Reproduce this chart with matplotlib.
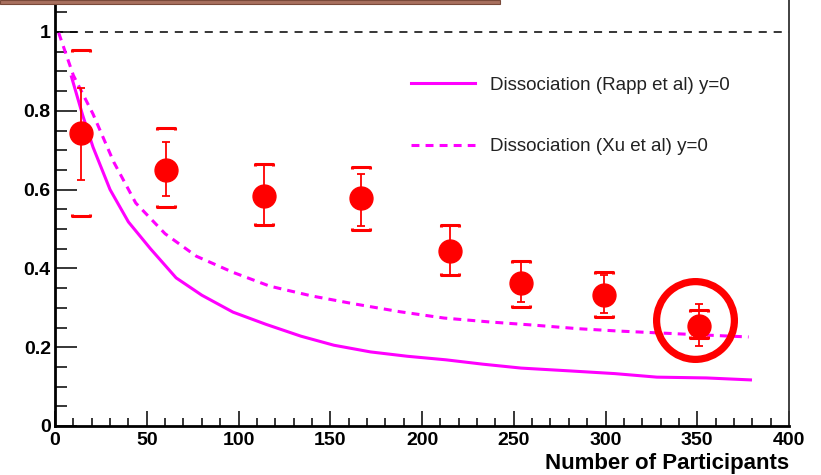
import numpy as np
import matplotlib.pyplot as plt
from matplotlib.path import Path
from matplotlib.patches import Rectangle
from matplotlib.ticker import MultipleLocator
# ===========================================================================
# data
npart = [14, 60.5, 114, 167, 215, 254, 299, 351]
raa = [0.743, 0.649, 0.585, 0.578, 0.445, 0.364, 0.333, 0.254]
stat_hi = [0.858, 0.72, 0.664, 0.640, 0.509, 0.420, 0.384, 0.310]
stat_lo = [0.624, 0.583, 0.509, 0.508, 0.384, 0.315, 0.288, 0.204]
sys_hi = [0.954, 0.756, 0.664, 0.657, 0.509, 0.420, 0.392, 0.295]
sys_lo = [0.532, 0.555, 0.509, 0.497, 0.384, 0.303, 0.277, 0.224]

# Rapp et al curve
rapp_n = [9, 15, 20.7, 30, 40, 52, 66, 80, 97, 115, 134, 152, 172, 192, 213, 233, 254, 280, 305, 328, 355, 379]
rapp_y = [0.886, 0.79, 0.708, 0.60, 0.518, 0.45, 0.376, 0.332, 0.289, 0.258, 0.228, 0.205, 0.188,
          0.177, 0.168, 0.157, 0.147, 0.140, 0.133, 0.124, 0.122, 0.117]

# Xu et al curve
xu_n = [2, 10, 20.7, 32, 44, 60, 77, 97, 117, 140, 163, 188, 212, 237, 261, 285, 307, 344, 378]
xu_y = [0.998, 0.89, 0.792, 0.67, 0.566, 0.488, 0.431, 0.39, 0.355, 0.33, 0.310, 0.29, 0.274,
        0.264, 0.256, 0.247, 0.241, 0.233, 0.226]

# circled point
circle_n = [349]
circle_y = [0.269]

x_ticks = [0, 50, 100, 150, 200, 250, 300, 350, 400]
y_ticks = [0, 0.2, 0.4, 0.6, 0.8, 1]
# ===========================================================================
plt.rcParams['font.family'] = ['Liberation Sans', 'DejaVu Sans']

fig = plt.figure(figsize=(8.21, 4.75), dpi=100)
ax = fig.add_axes([55 / 821, 49 / 475, 734 / 821, 426 / 475])

# brown strip at the top left
fig.patches.append(Rectangle((0, 471 / 475), 500 / 821, 4 / 475, transform=fig.transFigure,
                             facecolor='#a8705e', edgecolor='#7a4a3a', lw=0.8, zorder=10))

# reference line at 1
ax.axhline(1, color='black', lw=1.1, ls=(0, (5.3, 4.5)), zorder=1)

# theory curves
ax.plot(rapp_n, rapp_y, color='#ff00ff', lw=2.2, label='Dissociation (Rapp et al) y=0', zorder=2)
ax.plot(xu_n, xu_y, color='#ff00ff', lw=2.2, ls=(0, (2.6, 2.0)), label='Dissociation (Xu et al) y=0', zorder=2)

# systematic brackets
top_br = Path([(-1, -0.22), (-1, 0), (1, 0), (1, -0.22)], [Path.MOVETO, Path.LINETO, Path.LINETO, Path.LINETO])
bot_br = Path([(-1, 0.22), (-1, 0), (1, 0), (1, 0.22)], [Path.MOVETO, Path.LINETO, Path.LINETO, Path.LINETO])
ax.plot(npart, sys_hi, ls='none', marker=top_br, ms=13, mfc='none', mec='red', mew=2.2, zorder=3)
ax.plot(npart, sys_lo, ls='none', marker=bot_br, ms=13, mfc='none', mec='red', mew=2.2, zorder=3)

# points with stat errors
yerr = [np.array(raa) - np.array(stat_lo), np.array(stat_hi) - np.array(raa)]
ax.errorbar(npart, raa, yerr=yerr, fmt='o', color='red', ms=16.5, elinewidth=1.3,
            capsize=2.6, capthick=1.3, zorder=4)

# highlight ring
ax.plot(circle_n, circle_y, ls='none', marker='o', ms=56, mfc='none', mec='red', mew=5.2, zorder=5)

# ===========================================================================
ax.set_xlim(0, 400)
ax.set_ylim(0, 426 / 394)
ax.set_xticks(x_ticks)
ax.set_yticks(y_ticks)
ax.set_yticklabels(['0', '0.2', '0.4', '0.6', '0.8', '1'])
ax.xaxis.set_minor_locator(MultipleLocator(10))
ax.yaxis.set_minor_locator(MultipleLocator(0.05))

ax.tick_params(axis='both', which='both', direction='in', colors='black', width=1.1)
ax.tick_params(axis='y', which='major', length=16, pad=3)
ax.tick_params(axis='y', which='minor', length=8.5)
ax.tick_params(axis='x', which='major', length=11, pad=4)
ax.tick_params(axis='x', which='minor', length=5.5)
for lab in ax.get_xticklabels() + ax.get_yticklabels():
    lab.set_fontsize(14)
    lab.set_fontweight('bold')

ax.spines['top'].set_visible(False)
ax.spines['left'].set_linewidth(2.0)
ax.spines['bottom'].set_linewidth(2.0)
ax.spines['right'].set_linewidth(1.3)
ax.spines['right'].set_color('#333333')

ax.set_xlabel('Number of Participants', fontsize=16, fontweight='bold', loc='right', labelpad=3)

ax.legend(loc='center left', bbox_to_anchor=(347 / 734, 310 / 426), frameon=False, borderpad=0,
          handlelength=3.4, handletextpad=0.8, labelspacing=2.35, prop={'size': 13.5},
          labelcolor='#222222')

fig.savefig('out.png', dpi=100)
